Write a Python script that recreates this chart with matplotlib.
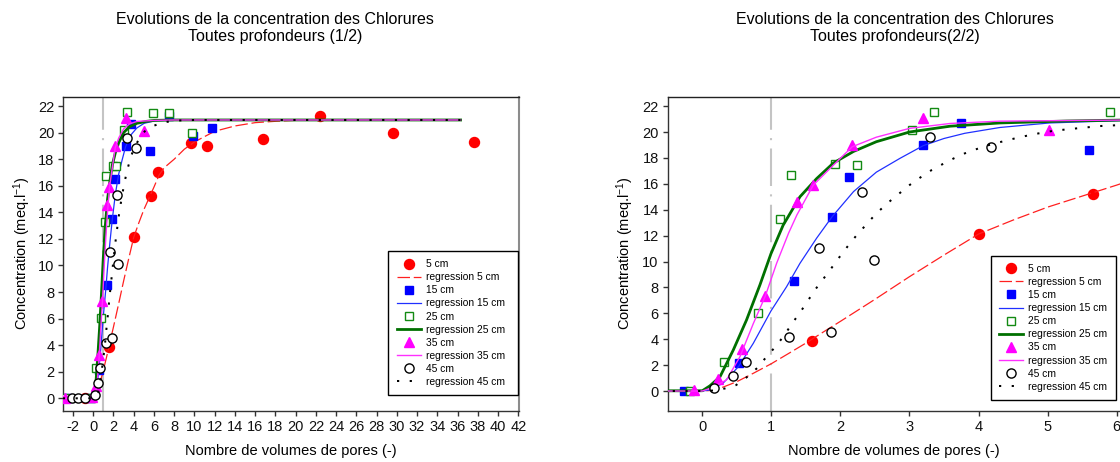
import matplotlib
matplotlib.use("Agg")
import matplotlib.pyplot as plt

plt.rcParams['font.family'] = ['Liberation Sans', 'DejaVu Sans']
plt.rcParams['mathtext.fontset'] = 'custom'
plt.rcParams['mathtext.rm'] = 'Liberation Sans'
plt.rcParams['mathtext.default'] = 'regular'
plt.rcParams['axes.unicode_minus'] = False

# ---------------- data ----------------
x5 = [-0.85, 1.59, 4.0, 5.66, 6.43, 9.61, 11.2, 16.77, 22.41, 29.58, 37.58]
y5 = [0.0, 3.89, 12.12, 15.2, 17.03, 19.19, 18.99, 19.54, 21.27, 20.0, 19.32]

x15 = [-2.6, -0.27, 0.53, 1.33, 1.88, 2.13, 3.2, 3.74, 5.6, 7.46, 9.89, 11.72]
y15 = [0.0, 0.0, 2.14, 8.52, 13.46, 16.52, 18.97, 20.66, 18.63, 21.25, 19.74, 20.37]

x25 = [-2.8, -0.18, 0.32, 0.81, 1.13, 1.28, 1.92, 2.24, 3.04, 3.36, 5.91, 7.53, 9.75]
y25 = [0.0, 0.0, 2.26, 6.02, 13.25, 16.7, 17.52, 17.47, 20.17, 21.54, 21.51, 21.5, 19.94]

x35 = [-2.75, -0.12, 0.23, 0.57, 0.91, 1.37, 1.6, 2.17, 3.2, 5.02]
y35 = [0.0, 0.08, 0.95, 3.27, 7.33, 14.56, 15.88, 18.99, 21.07, 20.12]

x45 = [-2.1, -1.5, -0.85, 0.17, 0.45, 0.63, 1.25, 1.69, 1.87, 2.31, 2.49, 3.29, 4.18]
y45 = [0.0, 0.0, 0.0, 0.26, 1.16, 2.26, 4.14, 11.04, 4.53, 15.34, 10.14, 19.63, 18.86]

# regression curves
rx5 = [-3, 0, 0.15, 0.3, 0.5, 0.75, 1.0, 1.25, 1.5, 1.75, 2.0, 2.5, 3.0, 3.5, 4.0, 4.5,
       5.0, 5.5, 6.0, 6.5, 7.0, 8.0, 9.0, 10.0, 12.0, 14.0, 16.0, 18.0, 20.0, 24.0, 36.3]
ry5 = [0, 0, 0.05, 0.3, 0.72, 1.4, 2.11, 2.9, 3.7, 4.55, 5.38, 7.08, 8.83, 10.5, 12.12, 13.2,
       14.2, 15.05, 15.9, 16.8, 17.35, 18.0, 18.75, 19.3, 20.1, 20.5, 20.75, 20.85, 20.92, 20.95, 20.95]

rx15 = [-3, 0, 0.11, 0.3, 0.526, 0.738, 0.994, 1.22, 1.414, 1.655, 1.88, 2.19, 2.52, 2.86,
        3.2, 3.5, 3.8, 4.31, 5.03, 6.05, 8.0, 36.3]
ry15 = [0, 0, 0.08, 0.6, 1.9, 3.68, 6.18, 8.05, 9.86, 11.8, 13.46, 15.4, 16.9, 17.96,
        18.95, 19.5, 19.9, 20.35, 20.7, 20.88, 20.95, 20.95]

rx25 = [-3, 0, 0.11, 0.256, 0.449, 0.64, 0.835, 0.994, 1.17, 1.414, 1.655, 1.897, 2.19,
        2.52, 3.0, 3.59, 4.31, 5.28, 6.05, 8.0, 36.3]
ry25 = [0, 0.02, 0.4, 1.1, 3.17, 5.48, 8.2, 10.6, 12.8, 15.0, 16.4, 17.6, 18.5,
        19.25, 20.0, 20.45, 20.7, 20.85, 20.92, 20.95, 20.95]

rx35 = [-3, 0, 0.11, 0.35, 0.545, 0.738, 0.912, 1.076, 1.25, 1.37, 1.607, 1.9, 2.17,
        2.52, 3.0, 3.59, 4.31, 6.05, 8.0, 36.3]
ry35 = [0, 0, 0.2, 0.85, 2.65, 5.2, 7.33, 9.86, 12.2, 13.6, 15.9, 17.45, 18.86,
        19.6, 20.28, 20.66, 20.84, 20.92, 20.95, 20.95]

rx45 = [-3, 0, 0.2, 0.33, 0.49, 0.64, 0.8, 0.93, 1.067, 1.19, 1.3, 1.414, 1.52, 1.63, 1.74,
        1.86, 1.98, 2.1, 2.23, 2.365, 2.51, 2.68, 2.84, 3.0, 3.16, 3.32, 3.48, 3.64, 3.8,
        3.96, 4.12, 4.44, 4.77, 5.09, 5.42, 5.76, 6.1, 7.0, 8.0, 10.0, 36.3]
ry45 = [0, 0, 0.05, 0.2, 0.46, 1.05, 1.8, 2.65, 3.47, 4.32, 5.22, 6.05, 6.9, 7.8, 8.57,
        9.42, 10.3, 11.14, 12.0, 12.8, 13.66, 14.5, 15.2, 15.9, 16.5, 17.06, 17.52, 17.96, 18.35,
        18.66, 18.95, 19.4, 19.8, 20.1, 20.28, 20.46, 20.55, 20.77, 20.9, 20.95, 20.95]

labels_pts = ['5 cm', '15 cm', '25 cm', '35 cm', '45 cm']
labels_reg = ['regression 5 cm', 'regression 15 cm', 'regression 25 cm',
              'regression 35 cm', 'regression 45 cm']

title1 = 'Evolutions de la concentration des Chlorures'
sub_left = 'Toutes profondeurs (1/2)'
sub_right = 'Toutes profondeurs(2/2)'
xlabel = 'Nombre de volumes de pores (-)'
ylabel = 'Concentration (meq.l$^{-1}$)'

# ---------------- figure ----------------
W, H = 1120, 462
fig = plt.figure(figsize=(W / 100, H / 100), dpi=100)

ax1 = fig.add_axes([63.3 / W, 1 - 411 / H, (519 - 63.3) / W, (411 - 97) / H])
ax2 = fig.add_axes([667.7 / W, 1 - 410.7 / H, (1122 - 667.7) / W, (410.7 - 97.3) / H])

GREEN = '#138a13'
DGREEN = '#007000'

def draw(ax):
    ax.axvline(1, color='#c4c4c4', lw=1.5, ls=(0, (18, 4, 1, 4)), zorder=1)
    h = []
    h.append(ax.plot(x5, y5, ls='none', marker='o', ms=7.2, mfc='#ff0000', mec='#ff0000',
                     label=labels_pts[0], zorder=3)[0])
    h.append(ax.plot(rx5, ry5, color='#ff2020', lw=0.9, ls=(0, (10, 3)),
                     label=labels_reg[0], zorder=3)[0])
    h.append(ax.plot(x15, y15, ls='none', marker='s', ms=5.8, mfc='#0000ff', mec='#0000ff',
                     label=labels_pts[1], zorder=3)[0])
    h.append(ax.plot(rx15, ry15, color='#2030ff', lw=0.9, label=labels_reg[1], zorder=3)[0])
    h.append(ax.plot(x25, y25, ls='none', marker='s', ms=5.6, mfc='white', mec=GREEN, mew=1.0,
                     label=labels_pts[2], zorder=3)[0])
    h.append(ax.plot(rx25, ry25, color=DGREEN, lw=2.0, label=labels_reg[2], zorder=3)[0])
    h.append(ax.plot(x35, y35, ls='none', marker='^', ms=7.0, mfc='#ff00ff', mec='#ff00ff',
                     label=labels_pts[3], zorder=3)[0])
    h.append(ax.plot(rx35, ry35, color='#ff30ff', lw=1.0, label=labels_reg[3], zorder=3)[0])
    h.append(ax.plot(x45, y45, ls='none', marker='o', ms=6.6, mfc='white', mec='black', mew=1.0,
                     label=labels_pts[4], zorder=3)[0])
    h.append(ax.plot(rx45, ry45, color='black', lw=1.45, ls=(0, (1.1, 5.2)), dash_capstyle='butt',
                     label=labels_reg[4], zorder=3)[0])
    for s in ['left', 'bottom']:
        ax.spines[s].set_color('#333333')
        ax.spines[s].set_linewidth(1.0)
    ax.spines['top'].set_color('#222222')
    ax.spines['top'].set_linewidth(1.0)
    ax.tick_params(direction='out', length=3.5, width=1.0, color='#333333',
                   labelsize=10.5, labelcolor='#111111', pad=3)
    ax.set_yticks(range(0, 23, 2))
    return h

h1 = draw(ax1)
h2 = draw(ax2)

ax1.set_xlim(-2.96, 42.07)
ax1.set_ylim(-0.956, 22.68)
ax1.set_xticks(range(-2, 43, 2))
ax1.spines['right'].set_color('#8c8c8c')
ax1.spines['right'].set_linewidth(1.5)

ax2.set_xlim(-0.501, 6.077)
ax2.set_ylim(-1.52, 22.68)
ax2.set_xticks(range(0, 7))
ax2.spines['right'].set_visible(False)

def make_legend(ax, handles, x0, ytop, w):
    lg = ax.legend(handles=handles, loc='upper left',
                   bbox_to_anchor=(x0 / W, 1 - ytop / H, w / W, 0),
                   bbox_transform=fig.transFigure, mode='expand', borderaxespad=0,
                   fontsize=7.4, frameon=True, fancybox=False, edgecolor='black',
                   framealpha=1, borderpad=0.8, labelspacing=0.3, handlelength=2.35,
                   handletextpad=0.5, numpoints=1)
    lg.get_frame().set_linewidth(1.0)
    lg.set_zorder(10)
    return lg

make_legend(ax1, h1, 388.3, 251, 130)
make_legend(ax2, h2, 990.7, 255.7, 125)

# titles and axis labels
fs_title = 11.5
fig.text(275 / W, 1 - 20 / H, title1, ha='center', va='center', fontsize=fs_title)
fig.text(275 / W, 1 - 36 / H, sub_left, ha='center', va='center', fontsize=fs_title)
fig.text(895 / W, 1 - 20 / H, title1, ha='center', va='center', fontsize=fs_title)
fig.text(895 / W, 1 - 36 / H, sub_right, ha='center', va='center', fontsize=fs_title)

fig.text(291 / W, 1 - 451 / H, xlabel, ha='center', va='center', fontsize=10.5)
fig.text(894 / W, 1 - 451 / H, xlabel, ha='center', va='center', fontsize=10.5)
fig.text(22 / W, 1 - 253 / H, ylabel, ha='center', va='center', rotation=90, fontsize=10.5)
fig.text(625 / W, 1 - 253 / H, ylabel, ha='center', va='center', rotation=90, fontsize=10.5)

fig.savefig('out.png', dpi=100)
